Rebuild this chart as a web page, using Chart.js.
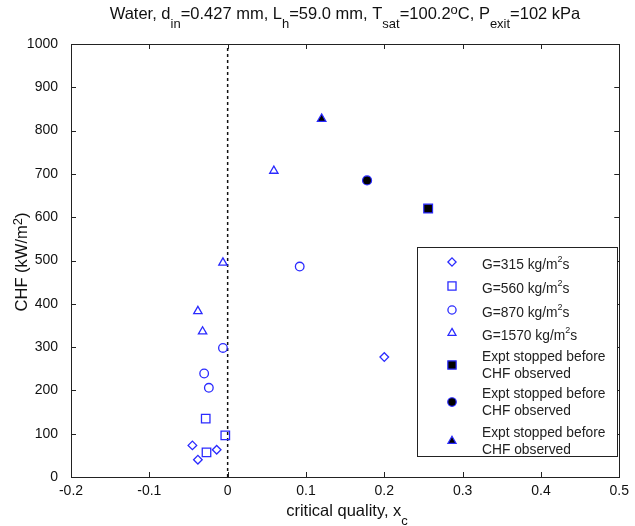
<!DOCTYPE html>
<html>
<head>
<meta charset="utf-8">
<script src="https://cdn.jsdelivr.net/npm/chart.js@4.4.1/dist/chart.umd.min.js"></script>
<style>
  html, body { margin: 0; padding: 0; background: #fff; }
  #wrap { width: 635px; height: 526px; }
</style>
</head>
<body>
<div id="wrap"><canvas id="chart" width="635" height="526"></canvas></div>
<script>
// data
const g315X = [-0.045, -0.038, -0.014, 0.200];
const g315Y = [73, 40, 63, 277];
const g560X = [-0.028, -0.003, -0.027];
const g560Y = [135, 96, 57];
const g870X = [-0.006, -0.030, -0.024, 0.092];
const g870Y = [298, 239, 206, 486];
const g1570X = [-0.038, -0.032, -0.006, 0.059];
const g1570Y = [383, 336, 495, 707];
const stopSquareX = [0.256];
const stopSquareY = [620];
const stopCircleX = [0.178];
const stopCircleY = [685];
const stopTriX = [0.120];
const stopTriY = [827];
const zeroLineX = [0, 0];
const zeroLineY = [0, 1000];

const xTicks = [-0.2, -0.1, 0, 0.1, 0.2, 0.3, 0.4, 0.5];
const yTicks = [0, 100, 200, 300, 400, 500, 600, 700, 800, 900, 1000];

const legendLabels = [
    ['G=315 kg/m', '2', 's'],
    ['G=560 kg/m', '2', 's'],
    ['G=870 kg/m', '2', 's'],
    ['G=1570 kg/m', '2', 's'],
    ['Expt stopped before', 'CHF observed'],
    ['Expt stopped before', 'CHF observed'],
    ['Expt stopped before', 'CHF observed']
];

const BLUE = '#2b2bff';
const FONT = '"Liberation Sans", Arial, sans-serif';

function pts(xs, ys) {
    return xs.map((x, i) => ({ x: x, y: ys[i] }));
}

function hollow(data, style, r) {
    return {
        type: 'scatter', data: data, pointStyle: style, pointRadius: r,
        pointHoverRadius: r, borderColor: BLUE, backgroundColor: 'rgba(0,0,0,0)',
        pointBorderWidth: 1.3, showLine: false
    };
}

function filled(data, style, r) {
    return {
        type: 'scatter', data: data, pointStyle: style, pointRadius: r,
        pointHoverRadius: r, borderColor: BLUE, backgroundColor: '#000',
        pointBorderWidth: 1.2, showLine: false
    };
}

// draws text pieces with sub/superscripts, centred on cx
function drawRich(ctx, parts, cx, y, size) {
    const small = Math.round(size * 0.8);
    let total = 0;
    parts.forEach(p => {
        ctx.font = (p.sub || p.sup ? small : size) + 'px ' + FONT;
        total += ctx.measureText(p.t).width;
    });
    let x = cx - total / 2;
    ctx.textAlign = 'left';
    ctx.textBaseline = 'alphabetic';
    parts.forEach(p => {
        ctx.font = (p.sub || p.sup ? small : size) + 'px ' + FONT;
        let dy = 0;
        if (p.sub) dy = size * 0.55;
        if (p.sup) dy = -size * 0.3;
        ctx.fillText(p.t, x, y + dy);
        x += ctx.measureText(p.t).width;
    });
}

const decor = {
    id: 'decor',
    afterDraw(chart) {
        const ctx = chart.ctx;
        const a = chart.chartArea;
        const xs = chart.scales.x, ys = chart.scales.y;
        ctx.save();
        ctx.fillStyle = '#111';

        // title
        drawRich(ctx, [
            { t: 'Water, d' }, { t: 'in', sub: true }, { t: '=0.427 mm, L' }, { t: 'h', sub: true },
            { t: '=59.0 mm, T' }, { t: 'sat', sub: true }, { t: '=100.2' }, { t: 'o', sup: true },
            { t: 'C, P' }, { t: 'exit', sub: true }, { t: '=102 kPa' }
        ], 345, 19, 16.5);

        // x axis title
        drawRich(ctx, [{ t: 'critical quality, x' }, { t: 'c', sub: true }], 347, 516, 16.5);

        // y axis title
        ctx.save();
        ctx.translate(27, 262);
        ctx.rotate(-Math.PI / 2);
        drawRich(ctx, [{ t: 'CHF (kW/m' }, { t: '2', sup: true }, { t: ')' }], 0, 0, 16.5);
        ctx.restore();

        // frame and inward ticks
        ctx.strokeStyle = '#222';
        ctx.lineWidth = 1;
        ctx.strokeRect(Math.round(a.left) + 0.5, Math.round(a.top) + 0.5,
            Math.round(a.right - a.left), Math.round(a.bottom - a.top));
        ctx.beginPath();
        xTicks.forEach(v => {
            const px = Math.round(xs.getPixelForValue(v)) + 0.5;
            ctx.moveTo(px, a.bottom); ctx.lineTo(px, a.bottom - 5);
            ctx.moveTo(px, a.top); ctx.lineTo(px, a.top + 5);
        });
        yTicks.forEach(v => {
            const py = Math.round(ys.getPixelForValue(v)) + 0.5;
            ctx.moveTo(a.left, py); ctx.lineTo(a.left + 5, py);
            ctx.moveTo(a.right, py); ctx.lineTo(a.right - 5, py);
        });
        ctx.stroke();

        // legend
        const lx = 417, ly = 247, lw = 200, lh = 209;
        ctx.fillStyle = '#fff';
        ctx.fillRect(lx, ly, lw, lh);
        ctx.strokeStyle = '#222';
        ctx.strokeRect(lx + 0.5, ly + 0.5, lw, lh);
        const rowY = [262, 286, 310, 333, 365, 402, 441];
        legendLabels.forEach((lab, i) => {
            const ds = chart.data.datasets[i];
            ctx.fillStyle = ds.backgroundColor;
            ctx.strokeStyle = ds.borderColor;
            ctx.lineWidth = ds.pointBorderWidth;
            Chart.helpers.drawPoint(ctx, {
                pointStyle: ds.pointStyle, radius: ds.pointRadius * 0.95,
                borderWidth: ds.pointBorderWidth, rotation: 0
            }, 452, rowY[i]);
            ctx.fillStyle = '#222';
            ctx.textAlign = 'left';
            ctx.textBaseline = 'middle';
            if (lab.length === 3) {
                ctx.font = '13.8px ' + FONT;
                ctx.fillText(lab[0], 482, rowY[i] + 3);
                const w = ctx.measureText(lab[0]).width;
                ctx.font = '9px ' + FONT;
                ctx.fillText(lab[1], 482 + w, rowY[i] - 2);
                const w2 = ctx.measureText(lab[1]).width;
                ctx.font = '13.8px ' + FONT;
                ctx.fillText(lab[2], 482 + w + w2, rowY[i] + 3);
            } else {
                ctx.font = '13.8px ' + FONT;
                ctx.fillText(lab[0], 482, rowY[i] - 8);
                ctx.fillText(lab[1], 482, rowY[i] + 9);
            }
        });
        ctx.restore();
    }
};

new Chart(document.getElementById('chart').getContext('2d'), {
    data: {
        datasets: [
            hollow(pts(g315X, g315Y), 'rectRot', 4.3),
            hollow(pts(g560X, g560Y), 'rect', 6),
            hollow(pts(g870X, g870Y), 'circle', 4.3),
            hollow(pts(g1570X, g1570Y), 'triangle', 4.8),
            filled(pts(stopSquareX, stopSquareY), 'rect', 6.2),
            filled(pts(stopCircleX, stopCircleY), 'circle', 4.5),
            filled(pts(stopTriX, stopTriY), 'triangle', 5)
        ].concat([{
            type: 'line', data: pts(zeroLineX, zeroLineY), borderColor: '#111',
            borderWidth: 1.5, borderDash: [3, 3], pointRadius: 0, fill: false
        }])
    },
    options: {
        responsive: false,
        animation: false,
        events: [],
        layout: { padding: { top: 44, right: 12, left: 0, bottom: 0 } },
        plugins: { legend: { display: false }, tooltip: { enabled: false } },
        scales: {
            x: {
                type: 'linear', min: -0.2, max: 0.5,
                afterFit: s => { s.height = 49; },
                afterBuildTicks: s => { s.ticks = xTicks.map(v => ({ value: v })); },
                grid: { display: false, drawTicks: false },
                border: { display: false },
                ticks: {
                    padding: 6, color: '#111', font: { family: FONT, size: 14 },
                    callback: v => String(v)
                }
            },
            y: {
                type: 'linear', min: 0, max: 1000,
                afterFit: s => { s.width = 71; },
                afterBuildTicks: s => { s.ticks = yTicks.map(v => ({ value: v })); },
                grid: { display: false, drawTicks: false },
                border: { display: false },
                ticks: {
                    padding: 13, color: '#111', font: { family: FONT, size: 14 },
                    callback: v => String(v)
                }
            }
        }
    },
    plugins: [decor]
});
</script>
</body>
</html>
